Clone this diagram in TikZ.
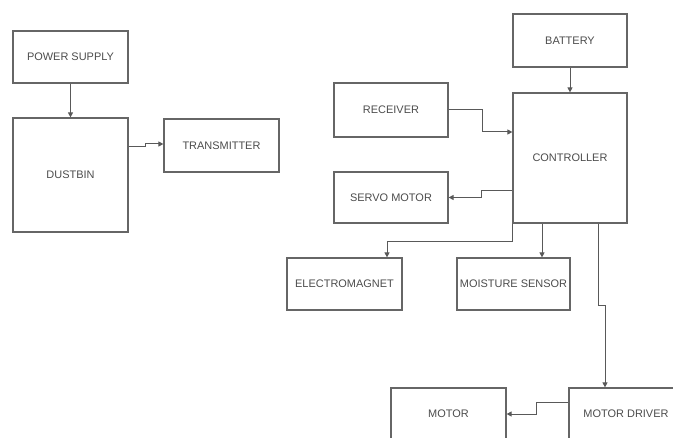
\documentclass[tikz,border=0pt]{standalone}
\usepackage{fontspec}
\setmainfont{Liberation Sans}
\usetikzlibrary{arrows.meta}
\begin{document}
\begin{tikzpicture}[x=1bp,y=-1bp,
  box/.style={draw=black!60, line width=1.2bp, inner sep=0pt, align=center,
    font=\fontsize{11}{13}\selectfont, text=black!70},
  conn/.style={draw=black!65, line width=1bp, -{Triangle[length=5bp,width=5bp]}}]
\useasboundingbox (0,0) rectangle (673,438);
\clip (0,0) rectangle (673,438);
% left group
\node[box, minimum width=115bp, minimum height=52bp] (ps) at (70.5,57) {POWER SUPPLY};
\node[box, minimum width=115bp, minimum height=114bp] (dust) at (70.5,175) {DUSTBIN};
\node[box, minimum width=115bp, minimum height=53bp] (trans) at (221.5,145.5) {TRANSMITTER};
% right group
\node[box, minimum width=114bp, minimum height=53bp] (bat) at (570,40.5) {BATTERY};
\node[box, minimum width=114bp, minimum height=130bp] (ctrl) at (570,158) {CONTROLLER};
\node[box, minimum width=114bp, minimum height=54bp] (recv) at (391,110) {RECEIVER};
\node[box, minimum width=114bp, minimum height=51bp] (servo) at (391,197.5) {SERVO MOTOR};
\node[box, minimum width=115bp, minimum height=52bp] (elec) at (344.5,284) {ELECTROMAGNET};
\node[box, minimum width=113bp, minimum height=52bp] (moist) at (513.5,284) {MOISTURE SENSOR};
\node[box, minimum width=115bp, minimum height=52bp] (motor) at (448.5,414) {MOTOR};
\node[box, minimum width=114bp, minimum height=52bp] (drv) at (626,414) {MOTOR DRIVER};
% connectors
\draw[conn] (ps) -- (dust);
\draw[conn] ([yshift=28bp]dust.east) -- ++(17,0) |- ([yshift=1.5bp]trans.west);
\draw[conn] (bat) -- (ctrl);
\draw[conn] (recv.east) -- ++(34,0) |- ([yshift=26bp]ctrl.west);
\draw[conn] ([yshift=-33bp]ctrl.west) -- ++(-31,0) |- (servo.east);
\draw[conn] (ctrl.south west) -- ++(0,18) -| ([xshift=42.5bp]elec.north);
\draw[conn] ([xshift=-28bp]ctrl.south) -- ([xshift=-28bp]ctrl.south |- moist.north);
\draw[conn] ([xshift=28bp]ctrl.south) -- ++(0,82) -| ([xshift=-21bp]drv.north);
\draw[conn] ([yshift=12bp]drv.west) -- ++(-32,0) |- (motor.east);
\end{tikzpicture}
\end{document}
